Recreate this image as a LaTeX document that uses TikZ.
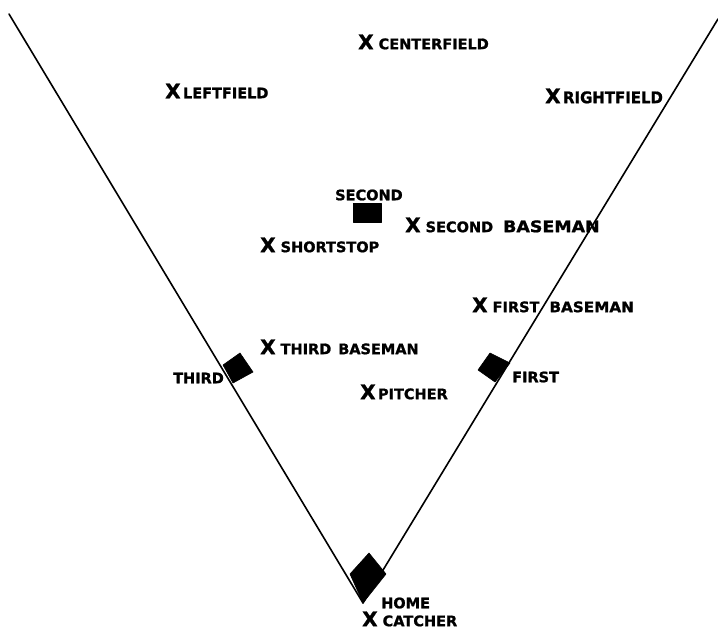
\documentclass[tikz,border=0pt]{standalone}
\usepackage{graphicx}
\usepackage{fontspec}
\setmainfont{DejaVu Sans}[BoldFeatures={FakeBold=1.2}]
\begin{document}
\begin{tikzpicture}[x=1pt,y=-1pt,
  lab/.style={anchor=west,inner sep=0pt,font=\bfseries\fontsize{14.5}{14.5}\selectfont},
  base/.style={fill=black,draw=black,line width=0.6pt,line join=round},
  foul/.style={line width=1.6pt,line cap=round}]
\useasboundingbox (0,0) rectangle (718,631);
\newcommand\bigx{{\fontsize{20}{20}\selectfont X}}
\newcommand\gap{\hspace{7pt}}
% foul lines
\coordinate (lt) at (9,14);
\coordinate (rt) at (718,19);
\coordinate (hp) at (363,603);
\draw[foul] (lt) -- (hp);
\draw[foul] (rt) -- (hp);
% bases
\fill[base] (369,553) -- (386,574) -- (363,603) -- (350,574) -- cycle;
\fill[base] (240,353) -- (253,372) -- (233,383) -- (223,365) -- cycle;
\fill[base] (490,353) -- (510,363) -- (495,382) -- (478,370) -- cycle;
\fill[base] (353,203) rectangle (381,222);
% labels
\node[lab] (cf) at (358,42) {\bigx\ CENTERFIELD};
\node[lab] (lf) at (165,91) {\bigx\,LEFTFIELD};
\node[lab] (rf) at (545,96) {\bigx\,\scalebox{1.03}[1.1]{RIGHTFIELD}};
\node[lab] (sec) at (335,195) {SECOND};
\node[lab] (sb) at (405,225) {\bigx\ SECOND\hspace{10pt}\scalebox{1.2}[1.1]{BASEMAN}};
\node[lab] (ss) at (260,245) {\bigx\ SHORTSTOP};
\node[lab] (fb) at (472,305) {\bigx\ FIRST\hspace{10pt}\scalebox{1.05}[1]{BASEMAN}};
\node[lab] (tb) at (260,347) {\bigx\ THIRD\gap BASEMAN};
\node[lab] (th) at (173,378) {THIRD};
\node[lab] (fi) at (512,377) {FIRST};
\node[lab] (pi) at (360,392) {\bigx\,PITCHER};
\node[lab] (ho) at (381,603) {HOME};
\node[lab] (ca) at (362,619) {\bigx\ CATCHER};
\end{tikzpicture}
\end{document}
